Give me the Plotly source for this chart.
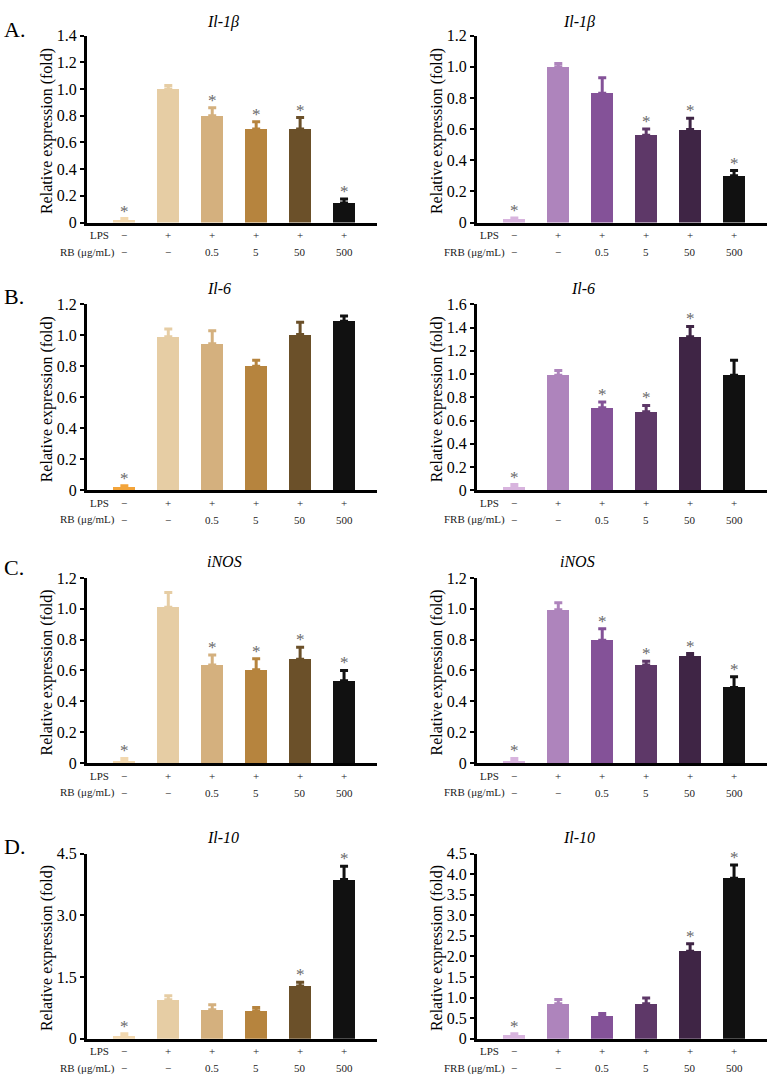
import plotly.graph_objects as go

W, H = 781, 1090

# ---------------- data ----------------
lps_row = ["−", "+", "+", "+", "+", "+"]
dose_row = ["−", "−", "0.5", "5", "50", "500"]
cats = [0, 1, 2, 3, 4, 5]

rb_colors = ["#F2D8AF", "#E6CDA4", "#D4B07E", "#B6843E", "#6B5029", "#111111"]
rb_colors_il6 = ["#F3A43A", "#E6CDA4", "#D4B07E", "#B6843E", "#6B5029", "#111111"]
frb_colors = ["#D8B4DE", "#AE84BC", "#845298", "#5E3868", "#3F2545", "#111111"]

# RB
il1b_rb = [0.02, 1.00, 0.80, 0.70, 0.70, 0.147]
il1b_rb_err = [0.01, 0.027, 0.06, 0.054, 0.086, 0.03]
il1b_rb_sig = [1, 0, 1, 1, 1, 1]

il6_rb = [0.02, 0.99, 0.945, 0.80, 1.005, 1.09]
il6_rb_err = [0.01, 0.05, 0.085, 0.04, 0.08, 0.035]
il6_rb_sig = [1, 0, 0, 0, 0, 0]

inos_rb = [0.015, 1.01, 0.635, 0.605, 0.673, 0.534]
inos_rb_err = [0.015, 0.096, 0.065, 0.072, 0.077, 0.066]
inos_rb_sig = [1, 0, 1, 1, 1, 1]

il10_rb = [0.064, 0.946, 0.706, 0.68, 1.28, 3.87]
il10_rb_err = [0.056, 0.10, 0.12, 0.08, 0.09, 0.32]
il10_rb_sig = [1, 0, 0, 0, 1, 1]

# FRB
il1b_frb = [0.02, 1.00, 0.83, 0.56, 0.597, 0.30]
il1b_frb_err = [0.01, 0.02, 0.10, 0.04, 0.073, 0.034]
il1b_frb_sig = [1, 0, 0, 1, 1, 1]

il6_frb = [0.03, 0.99, 0.71, 0.675, 1.32, 0.99]
il6_frb_err = [0.02, 0.04, 0.05, 0.055, 0.09, 0.13]
il6_frb_sig = [1, 0, 1, 1, 1, 0]

inos_frb = [0.015, 0.994, 0.796, 0.636, 0.696, 0.49]
inos_frb_err = [0.015, 0.046, 0.074, 0.024, 0.014, 0.07]
inos_frb_sig = [1, 0, 1, 1, 1, 1]

il10_frb = [0.08, 0.85, 0.557, 0.85, 2.126, 3.90]
il10_frb_err = [0.04, 0.105, 0.053, 0.14, 0.184, 0.32]
il10_frb_sig = [1, 0, 0, 0, 1, 1]

ticks_12 = [0, 0.2, 0.4, 0.6, 0.8, 1.0, 1.2]
ticks_12_txt = ["0", "0.2", "0.4", "0.6", "0.8", "1.0", "1.2"]
ticks_14 = ticks_12 + [1.4]
ticks_14_txt = ticks_12_txt + ["1.4"]
ticks_16 = ticks_14 + [1.6]
ticks_16_txt = ticks_14_txt + ["1.6"]
ticks_45a = [0, 1.5, 3.0, 4.5]
ticks_45a_txt = ["0", "1.5", "3.0", "4.5"]
ticks_45b = [0, 0.5, 1.0, 1.5, 2.0, 2.5, 3.0, 3.5, 4.0, 4.5]
ticks_45b_txt = ["0", "0.5", "1.0", "1.5", "2.0", "2.5", "3.0", "3.5", "4.0", "4.5"]

# ---------------- layout geometry (pixels) ----------------
rows = {
    "A": dict(top=28, zero=218, title_y=14, letter_y=22),
    "B": dict(top=301, zero=490, title_y=285, letter_y=293),
    "C": dict(top=579, zero=767, title_y=562, letter_y=568),
    "D": dict(top=859, zero=1047, title_y=843, letter_y=852),
}
cols = {
    "L": dict(x0=87, x1=377, title_x=205, ytitle_x=47, hdr_x=117, hdr="RB (μg/mL)"),
    "R": dict(x0=477, x1=767, title_x=597, ytitle_x=437, hdr_x=507, hdr="FRB (μg/mL)"),
}

panels = [
    ("A", "L", "Il-1β", 1.4, ticks_14, ticks_14_txt, il1b_rb, il1b_rb_err, il1b_rb_sig, rb_colors),
    ("A", "R", "Il-1β", 1.2, ticks_12, ticks_12_txt, il1b_frb, il1b_frb_err, il1b_frb_sig, frb_colors),
    ("B", "L", "Il-6", 1.2, ticks_12, ticks_12_txt, il6_rb, il6_rb_err, il6_rb_sig, rb_colors_il6),
    ("B", "R", "Il-6", 1.6, ticks_16, ticks_16_txt, il6_frb, il6_frb_err, il6_frb_sig, frb_colors),
    ("C", "L", "iNOS", 1.2, ticks_12, ticks_12_txt, inos_rb, inos_rb_err, inos_rb_sig, rb_colors),
    ("C", "R", "iNOS", 1.2, ticks_12, ticks_12_txt, inos_frb, inos_frb_err, inos_frb_sig, frb_colors),
    ("D", "L", "Il-10", 4.5, ticks_45a, ticks_45a_txt, il10_rb, il10_rb_err, il10_rb_sig, rb_colors),
    ("D", "R", "Il-10", 4.5, ticks_45b, ticks_45b_txt, il10_frb, il10_frb_err, il10_frb_sig, frb_colors),
]

FONT = "'Liberation Serif', 'Times New Roman', 'DejaVu Serif', serif"
fig = go.Figure()
annotations = []
layout = {}


def px_x(p):
    return p / W


def px_y(p):
    return 1 - p / H


for i, (r, c, title, ymax, tv, tt, vals, errs, sig, colors) in enumerate(panels):
    n = "" if i == 0 else str(i + 1)
    R, C = rows[r], cols[c]
    xa, ya = "x" + n, "y" + n
    fig.add_trace(go.Bar(
        x=cats, y=vals, xaxis=xa, yaxis=ya, width=0.5,
        marker=dict(color=colors, line=dict(width=0)),
        showlegend=False, hoverinfo="skip",
    ))
    # coloured error whiskers (one per bar, colour matching bar)
    for k in range(6):
        fig.add_trace(go.Scatter(
            x=[cats[k]], y=[vals[k]], xaxis=xa, yaxis=ya, mode="markers",
            marker=dict(size=1, color="rgba(0,0,0,0)"),
            error_y=dict(type="data", array=[errs[k]], arrayminus=[0], symmetric=False,
                         color=colors[k], thickness=3, width=4),
            showlegend=False, hoverinfo="skip",
        ))
    layout["xaxis" + n] = dict(
        domain=[px_x(C["x0"]), px_x(C["x1"])], range=[-0.85, 5.75],
        anchor=ya, showline=True, linecolor="black", linewidth=3,
        showticklabels=False, ticks="", showgrid=False, zeroline=False, fixedrange=True,
    )
    layout["yaxis" + n] = dict(
        domain=[px_y(R["zero"]), px_y(R["top"])], range=[0, ymax],
        anchor=xa, showline=True, linecolor="black", linewidth=3,
        tickvals=tv, ticktext=tt, ticks="outside", ticklen=4, tickwidth=2,
        tickcolor="black", showgrid=False, zeroline=False,
        tickfont=dict(family=FONT, size=16, color="black"), fixedrange=True,
    )
    # significance stars
    for k in range(6):
        if sig[k]:
            annotations.append(dict(
                x=cats[k], y=vals[k] + errs[k], xref=xa, yref=ya, text="*",
                showarrow=False, yanchor="bottom", yshift=-4,
                font=dict(family=FONT, size=17, color="#6a6a6a")))
    # x labels rows
    for k in range(6):
        annotations.append(dict(
            x=cats[k], y=px_y(R["zero"] + 13), xref=xa, yref="paper", text=lps_row[k],
            showarrow=False, yanchor="middle",
            font=dict(family=FONT, size=11, color="#222")))
        annotations.append(dict(
            x=cats[k], y=px_y(R["zero"] + 30), xref=xa, yref="paper", text=dose_row[k],
            showarrow=False, yanchor="middle",
            font=dict(family=FONT, size=11, color="#222")))
    annotations.append(dict(
        x=px_x(C["hdr_x"] - 6), y=px_y(R["zero"] + 13), xref="paper", yref="paper",
        text="LPS", showarrow=False, xanchor="right", yanchor="middle",
        font=dict(family=FONT, size=11, color="#222")))
    annotations.append(dict(
        x=px_x(C["hdr_x"]), y=px_y(R["zero"] + 30), xref="paper", yref="paper",
        text=C["hdr"], showarrow=False, xanchor="right", yanchor="middle",
        font=dict(family=FONT, size=11, color="#222")))
    # panel title (italic gene name)
    annotations.append(dict(
        x=px_x(C["title_x"]), y=px_y(R["title_y"]), xref="paper", yref="paper",
        text="<i>" + title + "</i>", showarrow=False, yanchor="middle",
        font=dict(family=FONT, size=16, color="black")))
    # y-axis title
    annotations.append(dict(
        x=px_x(C["ytitle_x"]), y=px_y((R["top"] + R["zero"]) / 2 + 2), xref="paper",
        yref="paper", text="Relative expression (fold)", textangle=-90,
        showarrow=False, xanchor="center", yanchor="middle",
        font=dict(family=FONT, size=16, color="black")))
    if c == "L":
        annotations.append(dict(
            x=px_x(2), y=px_y(R["letter_y"]), xref="paper", yref="paper",
            text=r + ".", showarrow=False, xanchor="left", yanchor="middle",
            font=dict(family=FONT, size=22, color="black")))

fig.update_layout(
    width=W, height=H, margin=dict(l=0, r=0, t=0, b=0),
    paper_bgcolor="white", plot_bgcolor="white",
    font=dict(family=FONT),
    bargap=0, annotations=annotations, showlegend=False, **layout,
)

fig.write_html(
    "out.html",
    config={"displayModeBar": False, "staticPlot": True},
    post_script="document.body.style.margin='0';document.body.style.overflow='hidden';",
)
